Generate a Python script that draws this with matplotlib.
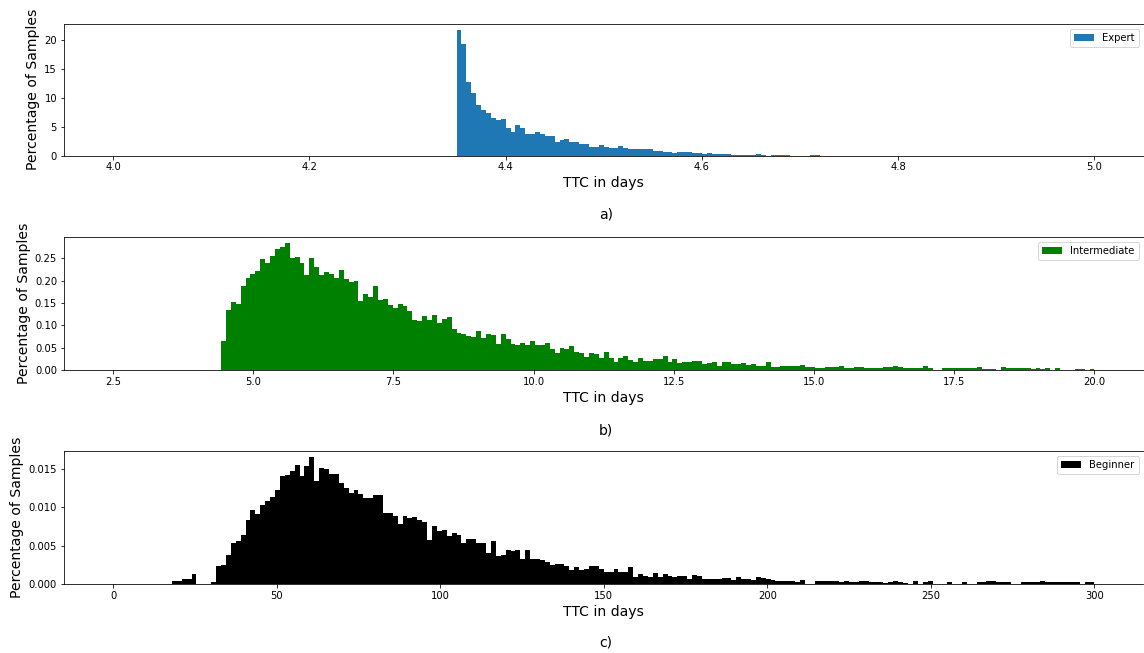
import numpy as np
import matplotlib
matplotlib.use('Agg')
import matplotlib.pyplot as plt

# histogram setup: 200 bins over each range, values given from the first non-empty bin
n_bins = 200

expert_range = (4.0, 5.0)
expert_first_bin = 70
expert_pct = [21.7, 19.4, 12.8, 10.9, 8.8, 7.95, 7.4, 6.5, 6.1, 6.4,
              4.8, 4.15, 5.2, 4.7, 3.8, 3.8, 4.0, 3.8, 3.3, 3.45,
              2.4, 2.6, 2.8, 2.4, 2.4, 2.0, 2.0, 1.5, 1.5, 1.9,
              1.5, 1.27, 1.27, 1.6, 1.27, 1.2, 1.1, 1.2, 1.2, 1.04,
              0.8, 0.8, 0.63, 0.58, 0.46, 0.63, 0.63, 0.58, 0.35, 0.46,
              0.29, 0.4, 0.2, 0.2, 0.2, 0.2, 0.1, 0.12, 0.1, 0.1,
              0.1, 0.25, 0.1, 0, 0.12, 0.12, 0.12, 0.12, 0, 0,
              0, 0, 0.15, 0.15]

inter_range = (2.5, 20.0)
inter_first_bin = 22
inter_pct = [0.066, 0.135, 0.153, 0.149, 0.189, 0.207, 0.215, 0.222, 0.249, 0.241,
             0.256, 0.272, 0.276, 0.284, 0.250, 0.254, 0.240, 0.214, 0.251, 0.232,
             0.214, 0.219, 0.216, 0.207, 0.225, 0.204, 0.197, 0.199, 0.154, 0.170,
             0.164, 0.189, 0.156, 0.159, 0.146, 0.140, 0.147, 0.144, 0.133, 0.113,
             0.109, 0.120, 0.113, 0.124, 0.105, 0.115, 0.118, 0.093, 0.082, 0.080,
             0.076, 0.073, 0.088, 0.071, 0.081, 0.078, 0.059, 0.081, 0.070, 0.058,
             0.055, 0.060, 0.055, 0.065, 0.057, 0.057, 0.060, 0.048, 0.039, 0.050,
             0.048, 0.053, 0.041, 0.039, 0.030, 0.039, 0.035, 0.028, 0.041, 0.028,
             0.019, 0.026, 0.032, 0.023, 0.019, 0.028, 0.021, 0.021, 0.025, 0.025,
             0.032, 0.019, 0.025, 0.016, 0.019, 0.018, 0.020, 0.021, 0.013, 0.016,
             0.019, 0.010, 0.017, 0.017, 0.013, 0.013, 0.015, 0.011, 0.013, 0.010,
             0.010, 0.017, 0.007, 0.006, 0.010, 0.010, 0.009, 0.009, 0.011, 0.0074,
             0.0074, 0.005, 0.005, 0.007, 0.007, 0.007, 0.009, 0.005, 0.005, 0.0074,
             0.0074, 0.005, 0.005, 0.005, 0.004, 0.006, 0.006, 0.008, 0.0074, 0.0045,
             0.0045, 0.005, 0.005, 0.0097, 0.004, 0, 0, 0.005, 0.004, 0.004,
             0.004, 0.004, 0.004, 0.004, 0.007, 0.003, 0.003, 0.003, 0, 0.007,
             0.004, 0.005, 0.0045, 0.0045, 0.0045, 0.002, 0.005, 0.003, 0.005, 0,
             0.005, 0, 0, 0, 0.003, 0.003, 0, 0.003]

begin_range = (0.0, 300.0)
begin_first_bin = 12
begin_pct = [0.00039, 0.00039, 0.0006, 0.0006, 0.00125, 0, 0, 0, 0.0002, 0.0024,
             0.0025, 0.0038, 0.0054, 0.0056, 0.0064, 0.0084, 0.0097, 0.0091, 0.0103, 0.0108,
             0.0113, 0.0122, 0.0141, 0.0142, 0.0147, 0.0155, 0.0141, 0.0154, 0.0165, 0.0134,
             0.0151, 0.0150, 0.0143, 0.0143, 0.0131, 0.0125, 0.0119, 0.0123, 0.0117, 0.0112,
             0.0112, 0.0116, 0.0116, 0.0093, 0.0092, 0.0089, 0.0078, 0.0088, 0.0086, 0.0087,
             0.0083, 0.0081, 0.0057, 0.0076, 0.0069, 0.0070, 0.0063, 0.0066, 0.0064, 0.0053,
             0.0058, 0.0058, 0.0054, 0.0053, 0.0040, 0.0056, 0.0036, 0.0038, 0.0044, 0.0043,
             0.0044, 0.0033, 0.0044, 0.0033, 0.0033, 0.0031, 0.0029, 0.0025, 0.0026, 0.0026,
             0.0024, 0.0018, 0.0022, 0.0018, 0.0019, 0.0024, 0.0024, 0.0020, 0.0016, 0.0016,
             0.0020, 0.0016, 0.0016, 0.0022, 0.00095, 0.0013, 0.0011, 0.00095, 0.0014, 0.00095,
             0.0013, 0.0011, 0.00095, 0.0010, 0.0010, 0.0006, 0.0012, 0.0010, 0.0007, 0.0007,
             0.0007, 0.0007, 0.0008, 0.0008, 0.0005, 0.00095, 0.00065, 0.0007, 0.0005, 0.00095,
             0.0008, 0.00065, 0.0005, 0.00045, 0.00043, 0.0004, 0.0004, 0.0003, 0.00056, 0,
             0, 0.00034, 0.0004, 0.0004, 0.0004, 0.0004, 0.0003, 0.0004, 0.0003, 0.0003,
             0.0004, 0.0004, 0.0003, 0.0002, 0.0003, 0.00013, 0.0003, 0.0004, 0.00026, 0.00017,
             0, 0.00034, 0, 0.00026, 0.0004, 0, 0, 0, 0.0002, 0,
             0, 0.00026, 0, 0, 0.00026, 0.0002, 0.0004, 0.0004, 0.00026, 0.0002,
             0.0002, 0, 0, 0.00026, 0.00026, 0.00026, 0.0002, 0.00034, 0.00026, 0.00026,
             0.0002, 0.00026, 0.00026, 0.00026, 0.0002, 0, 0.0003, 0.0002]

panels = [
    (expert_range, expert_first_bin, expert_pct, '#1f77b4', 'Expert', 'a)'),
    (inter_range, inter_first_bin, inter_pct, 'green', 'Intermediate', 'b)'),
    (begin_range, begin_first_bin, begin_pct, 'black', 'Beginner', 'c)'),
]

W, H = 1144, 653
fig = plt.figure(figsize=(W / 72, H / 72), dpi=72)

# axes boxes in pixels: (top, bottom)
boxes = [(24, 155.5), (237, 370), (451, 584)]
left_px, right_px = 64, 1143.5
caption_y = [215, 430, 643]

for (rng, first, vals, color, label, cap), (top, bot), cy in zip(panels, boxes, caption_y):
    ax = fig.add_axes([left_px / W, 1 - bot / H, (right_px - left_px) / W, (bot - top) / H])
    edges = np.linspace(rng[0], rng[1], n_bins + 1)
    centers = (edges[:-1] + edges[1:]) / 2
    heights = np.zeros(n_bins)
    heights[first:first + len(vals)] = vals
    ax.hist(centers, bins=edges, weights=heights, color=color, label=label)
    ax.set_xlabel('TTC in days', fontsize=14)
    ax.set_ylabel('Percentage of Samples', fontsize=14)
    ax.tick_params(labelsize=10)
    ax.legend(loc='upper right', fontsize=10)
    fig.text(606 / W, 1 - cy / H, cap, ha='center', va='center', fontsize=14)

fig.savefig('out.png', dpi=72, facecolor='white')
